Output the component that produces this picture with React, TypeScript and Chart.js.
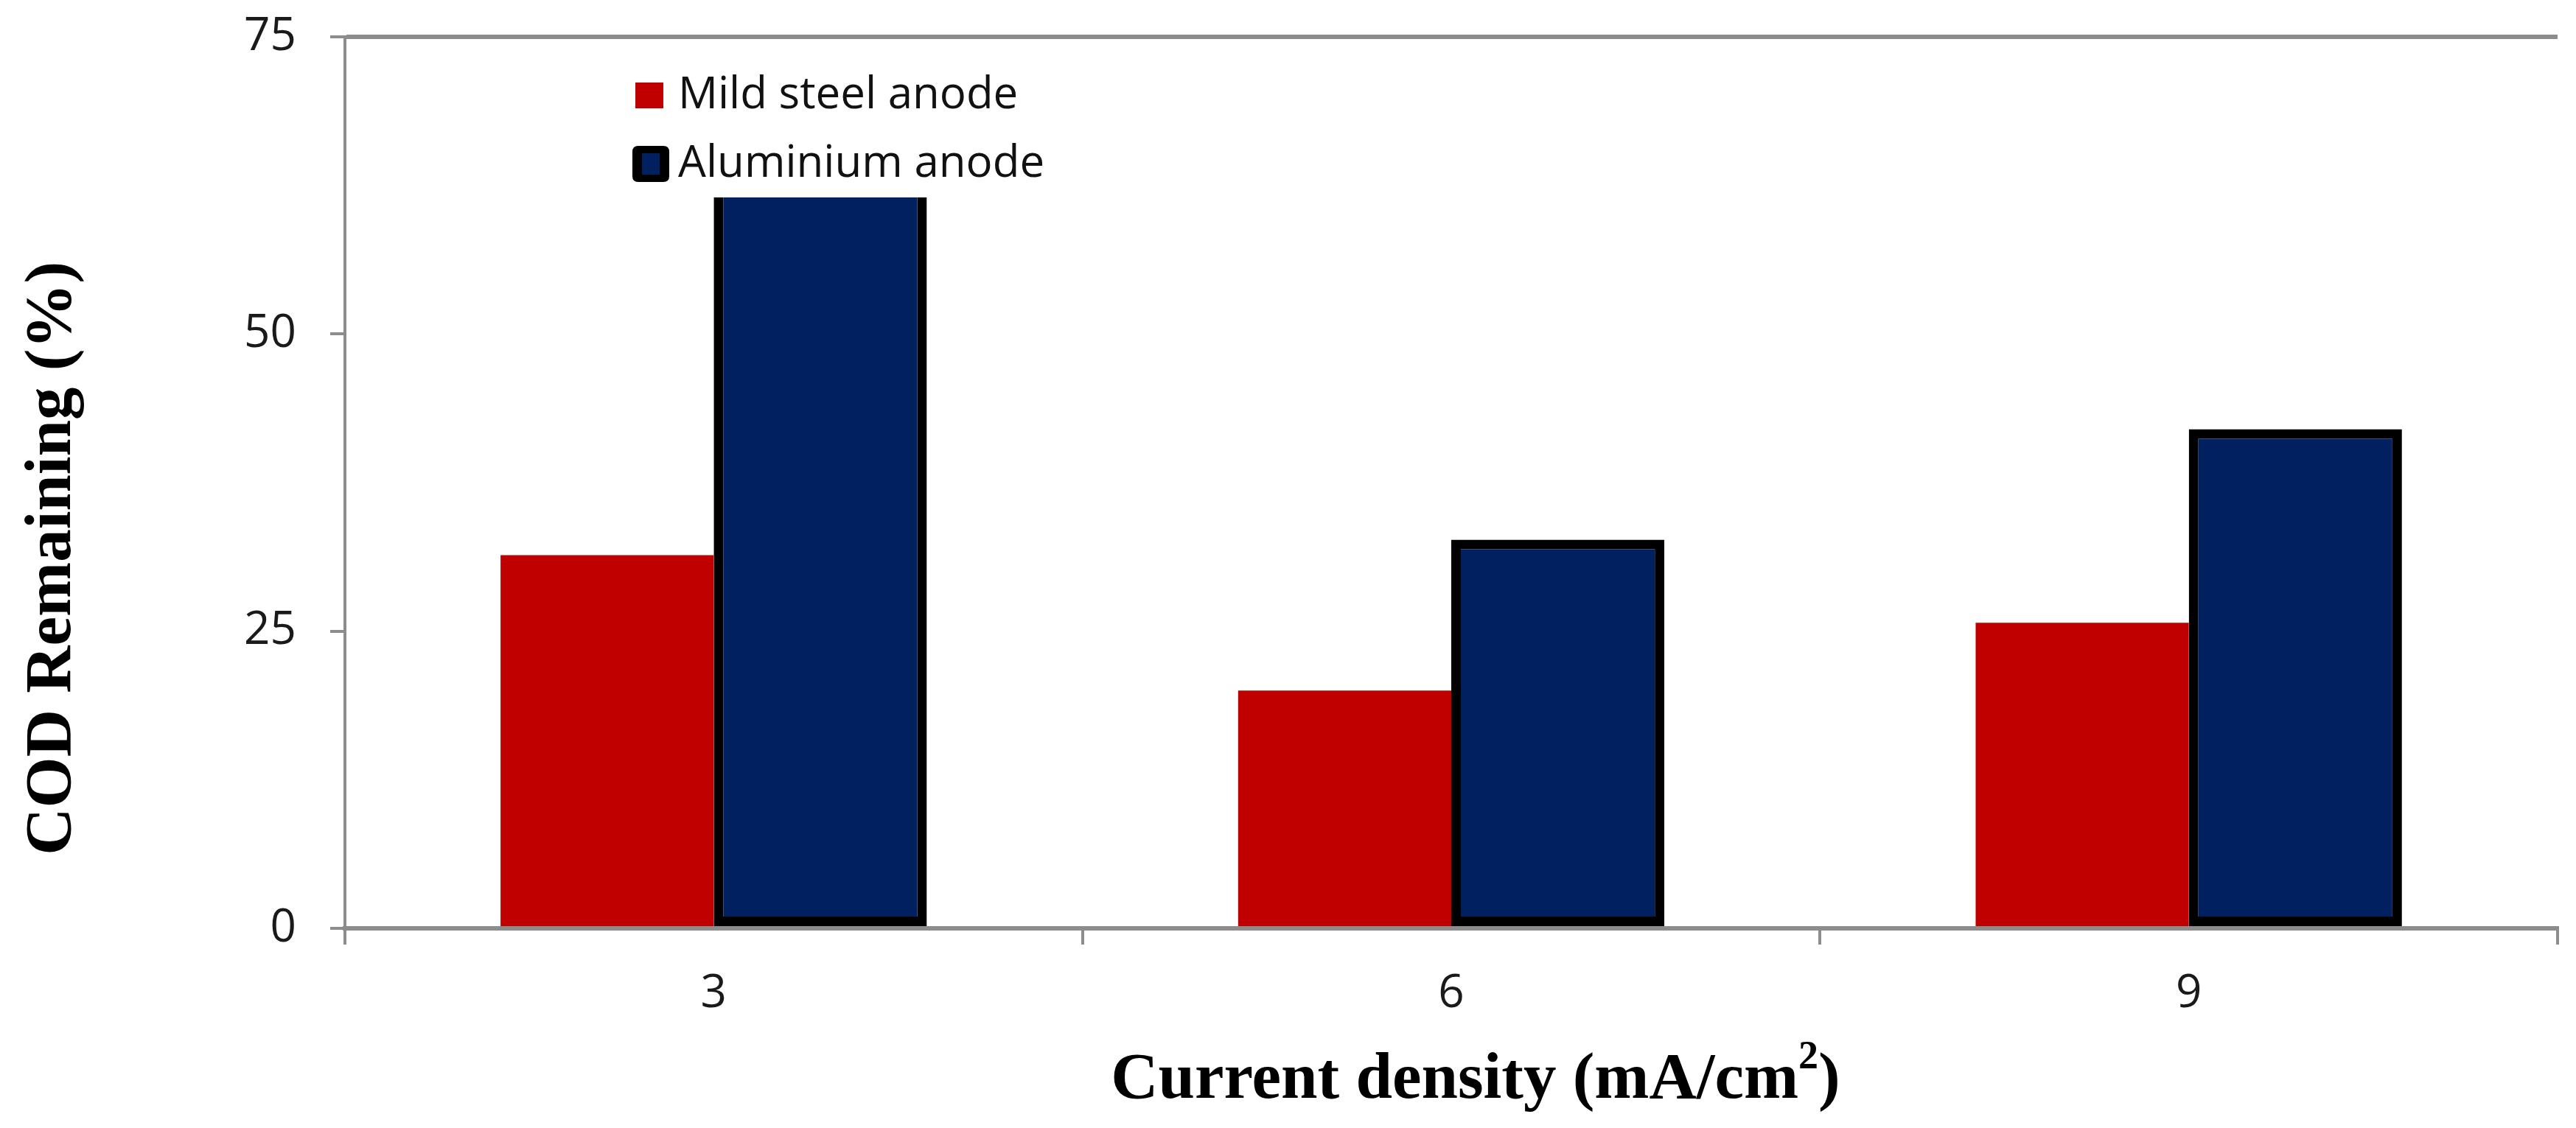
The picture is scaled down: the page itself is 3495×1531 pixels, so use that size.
import React, { useEffect, useRef } from 'react';
import { Chart, registerables } from 'chart.js';

Chart.register(...registerables);

const categories = ['3', '6', '9'];
const mildSteel = [31.4, 20.0, 25.7];
const aluminium = [61.5, 32.7, 42.0];
const seriesLabels = ['Mild steel anode', 'Aluminium anode'];
const yMin = 0;
const yMax = 75;
const yStep = 25;
const yTitle = 'COD Remaining (%)';
const xTitleMain = 'Current density (mA/cm';
const xTitleSup = '2';
const xTitleEnd = ')';

const AXIS_GREY = '#8c8c8c';
const RED = '#C00000';
const NAVY = '#002060';

const decorPlugin = {
  id: 'decor',
  afterDraw(chart: any) {
    const { ctx, chartArea } = chart;
    const w = chartArea.right - chartArea.left;
    const h = chartArea.bottom - chartArea.top;
    ctx.save();

    // Y title
    ctx.save();
    ctx.font = 'bold 89px "Liberation Serif"';
    ctx.fillStyle = '#000';
    ctx.textAlign = 'center';
    ctx.textBaseline = 'alphabetic';
    ctx.translate(chartArea.left - 373, chartArea.top + h * 0.585);
    ctx.rotate(-Math.PI / 2);
    ctx.fillText(yTitle, 0, 0);
    ctx.restore();

    // X title with superscript
    const mainFont = 'bold 89px "Liberation Serif"';
    const supFont = 'bold 54px "Liberation Serif"';
    ctx.font = mainFont;
    const w1 = ctx.measureText(xTitleMain).width;
    const w3 = ctx.measureText(xTitleEnd).width;
    ctx.font = supFont;
    const w2 = ctx.measureText(xTitleSup).width;
    const total = w1 + w2 + w3;
    const cx = chartArea.left + w * 0.511;
    const baseY = chartArea.bottom + 230;
    let x = cx - total / 2;
    ctx.textAlign = 'left';
    ctx.textBaseline = 'alphabetic';
    ctx.fillStyle = '#000';
    ctx.font = mainFont;
    ctx.fillText(xTitleMain, x, baseY);
    x += w1;
    ctx.font = supFont;
    ctx.fillText(xTitleSup, x, baseY - 40);
    x += w2;
    ctx.font = mainFont;
    ctx.fillText(xTitleEnd, x, baseY);

    // Legend (inside chart area, top-left)
    const ds = chart.data.datasets;
    const lx = chartArea.left + 394;
    ctx.font = '60px "Open Sans"';
    // item 1
    ctx.fillStyle = ds[0].backgroundColor;
    ctx.fillRect(lx, chartArea.top + 62, 38, 35);
    ctx.fillStyle = '#111';
    ctx.fillText(ds[0].label, lx + 58, chartArea.top + 97);
    // item 2
    ctx.fillStyle = '#000';
    const bx = lx - 4, by = chartArea.top + 148, bw = 50, bh = 49, r = 8;
    ctx.beginPath();
    ctx.moveTo(bx + r, by);
    ctx.lineTo(bx + bw - r, by);
    ctx.quadraticCurveTo(bx + bw, by, bx + bw, by + r);
    ctx.lineTo(bx + bw, by + bh - r);
    ctx.quadraticCurveTo(bx + bw, by + bh, bx + bw - r, by + bh);
    ctx.lineTo(bx + r, by + bh);
    ctx.quadraticCurveTo(bx, by + bh, bx, by + bh - r);
    ctx.lineTo(bx, by + r);
    ctx.quadraticCurveTo(bx, by, bx + r, by);
    ctx.fill();
    ctx.fillStyle = ds[1].backgroundColor;
    ctx.fillRect(bx + 13, by + 10, bw - 26, bh - 20);
    ctx.fillStyle = '#111';
    ctx.fillText(ds[1].label, lx + 58, chartArea.top + 190);

    ctx.restore();
  },
};

export default function App() {
  const canvasRef = useRef<HTMLCanvasElement | null>(null);

  useEffect(() => {
    if (!canvasRef.current) return;
    const chart = new Chart(canvasRef.current, {
      type: 'bar',
      data: {
        labels: categories,
        datasets: [
          {
            label: seriesLabels[0],
            data: mildSteel,
            backgroundColor: RED,
            borderWidth: 0,
            categoryPercentage: 0.578,
            barPercentage: 1,
          },
          {
            label: seriesLabels[1],
            data: aluminium,
            backgroundColor: NAVY,
            borderColor: '#000',
            borderWidth: 13,
            borderSkipped: (c: any) => (c.dataIndex === 0 ? 'top' : false),
            categoryPercentage: 0.578,
            barPercentage: 1,
          },
        ],
      },
      options: {
        animation: false,
        responsive: true,
        maintainAspectRatio: false,
        layout: { padding: { left: 0, top: 50, right: 25, bottom: 0 } },
        plugins: {
          legend: { display: false },
          tooltip: { enabled: false },
        },
        scales: {
          x: {
            grid: {
              display: true,
              drawOnChartArea: false,
              offset: true,
              tickLength: 22,
              tickColor: AXIS_GREY,
              tickWidth: 4,
              lineWidth: 4,
              color: AXIS_GREY,
            },
            border: { display: true, color: AXIS_GREY, width: 6 },
            ticks: {
              font: { family: 'Open Sans', size: 62 },
              color: '#1a1a1a',
              padding: 30,
            },
            afterFit: (s: any) => {
              s.height = 271;
              s.paddingLeft = 0;
              s.paddingRight = 0;
            },
          },
          y: {
            min: yMin,
            max: yMax,
            ticks: {
              stepSize: yStep,
              font: { family: 'Open Sans', size: 62 },
              color: '#1a1a1a',
              padding: 46,
            },
            grid: {
              color: (c: any) => (c.tick && c.tick.value === yMax ? AXIS_GREY : 'rgba(0,0,0,0)'),
              lineWidth: 6,
              tickLength: 20,
              tickColor: AXIS_GREY,
              tickWidth: 4,
            },
            border: { display: true, color: AXIS_GREY, width: 4 },
            afterFit: (s: any) => {
              s.width = 468;
              s.paddingTop = 0;
              s.paddingBottom = 0;
            },
          },
        },
      },
      plugins: [decorPlugin],
    });
    return () => chart.destroy();
  }, []);

  return (
    <div style={{ position: 'absolute', left: 0, top: 0, width: 3495, height: 1531, background: '#fff' }}>
      <canvas ref={canvasRef} />
    </div>
  );
}
